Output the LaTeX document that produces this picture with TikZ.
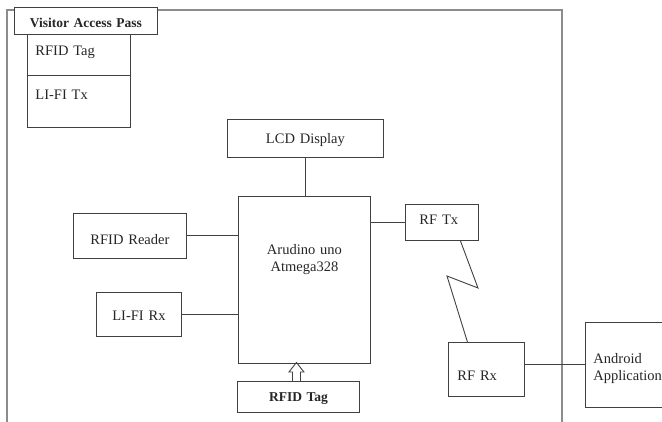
\documentclass[tikz,border=0pt]{standalone}
\usepackage{fontspec}
\setmainfont{Liberation Serif}
\usetikzlibrary{calc}

\begin{document}
\begin{tikzpicture}[x=1pt, y=-1pt,
    blk/.style={draw=black!75, line width=0.9pt, inner sep=0pt, anchor=north west,
        text=black!85, font=\fontsize{14.5}{17.5}\selectfont},
    bld/.style={blk, fill=white, font=\fontsize{13.5}{16}\selectfont\bfseries},
    ln/.style={draw=black!75, line width=0.9pt}]
    \useasboundingbox (0,0) rectangle (662,422);
    % outer frame
    \draw[black!45, line width=1.6pt] (7,430) -- (7,10) -- (562,10) -- (562,430);
    % visitor pass
    \node[blk, align=left, inner xsep=8pt, text width=87pt, text height=35pt, text depth=20pt] (pastag) at (27,20) {RFID Tag};
    \node[blk, align=left, inner xsep=8pt, text width=87pt, text height=24pt, text depth=28pt] (pastx) at (27,75) {LI-FI Tx};
    \node[bld, align=center, text width=143pt, text height=20pt, text depth=7pt] (pass) at (14,7) {Visitor Access Pass};
    % blocks
    \node[blk, align=center, text width=156pt, text height=24pt, text depth=14pt] (lcd) at (227,119) {LCD Display};
    \node[blk, align=center, text width=132pt, text height=58pt, text depth=109pt] (ard) at (238,196) {Arudino uno\\Atmega328};
    \node[blk, align=center, text width=113pt, text height=31pt, text depth=14pt] (reader) at (73,213) {RFID Reader};
    \node[blk, align=center, text width=85pt, text height=28pt, text depth=16pt] (lifirx) at (96,292) {LI-FI Rx};
    \node[blk, align=left, inner xsep=14pt, text width=45pt, text height=20pt, text depth=16pt] (rftx) at (405,204) {RF Tx};
    \node[blk, align=left, inner xsep=9pt, text width=58pt, text height=38pt, text depth=16pt] (rfrx) at (448,342) {RF Rx};
    \node[blk, align=left, inner xsep=8pt, text width=75pt, text height=41pt, text depth=44pt] (andr) at (585,322) {Android\\Application};
    \node[bld, align=center, text width=122pt, text height=20pt, text depth=11pt] (tag) at (237,381) {RFID Tag};
    % links
    \draw[ln] (lcd.south) -- (lcd.south |- ard.north);
    \draw[ln] (reader.east) -- (reader.east -| ard.west);
    \draw[ln] (lifirx.east) -- (lifirx.east -| ard.west);
    \draw[ln] (rftx.west) -- (rftx.west -| ard.east);
    \draw[ln] (andr.west) -- (andr.west -| rfrx.east);
    % radio link
    \coordinate (z1) at (478,288);
    \coordinate (z2) at (447,276);
    \draw[ln] ([xshift=18.5pt]rftx.south) -- (z1) -- (z2) -- ([xshift=-19pt]rfrx.north);
    % hollow arrow
    \draw[ln] ([xshift=-6pt]tag.north) -- ++(0,-9) -- ++(-3.5,0) -- ++(7.5,-9.5)
        -- ++(7.5,9.5) -- ++(-3.5,0) -- ++(0,9);
\end{tikzpicture}
\end{document}
